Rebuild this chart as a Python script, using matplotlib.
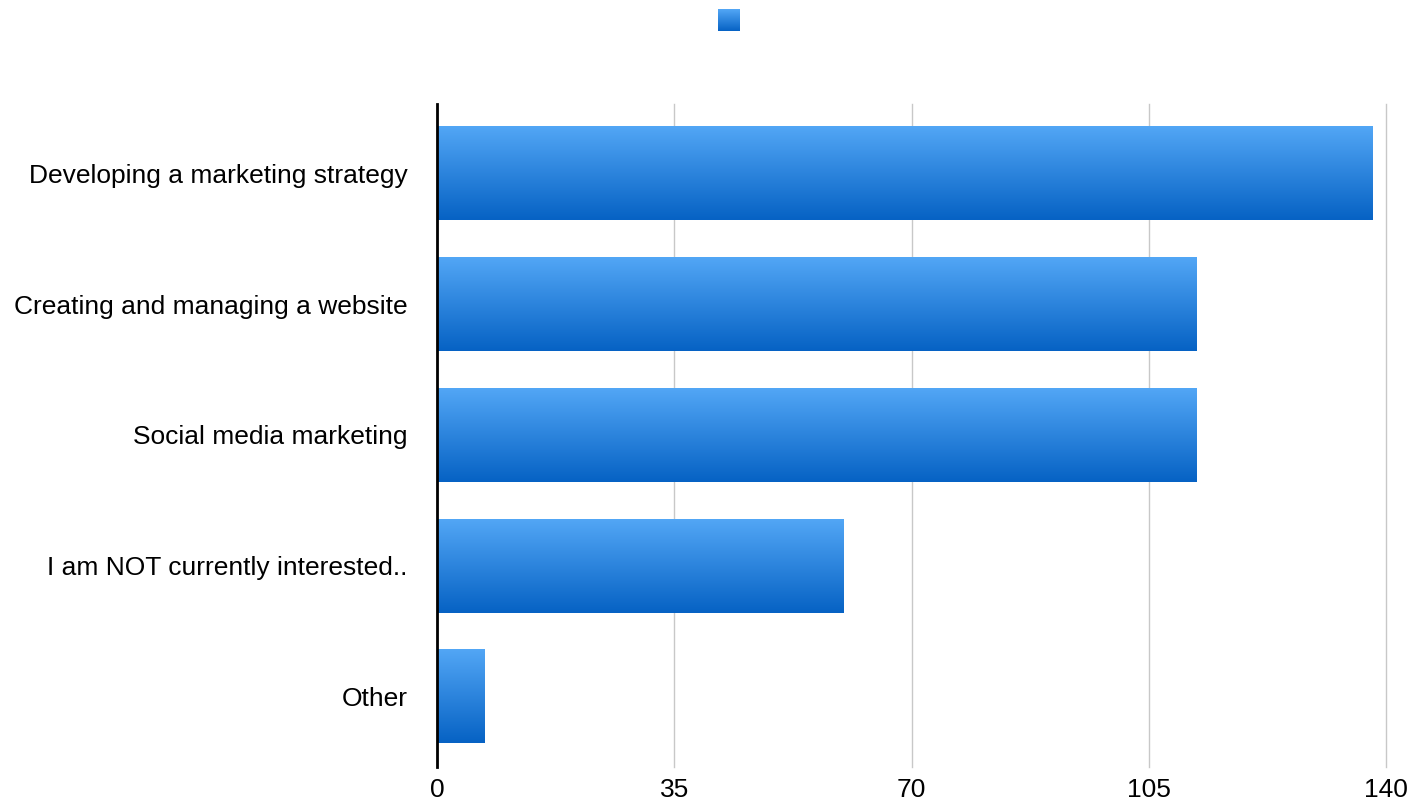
import matplotlib.pyplot as plt
import numpy as np
from matplotlib.colors import LinearSegmentedColormap

plt.rcParams['font.family'] = ['Liberation Sans', 'DejaVu Sans']

categories = ['Developing a marketing strategy', 'Creating and managing a website',
              'Social media marketing', 'I am NOT currently interested..', 'Other']
counts = [138, 112, 112, 60, 7]
xticks = [0, 35, 70, 105, 140]

# vertical gradient used for every bar, light at the top, dark at the bottom
grad = LinearSegmentedColormap.from_list('bluegrad', ['#0662C4', '#53A7F6'])
ramp = np.linspace(0, 1, 256).reshape(-1, 1)

fig = plt.figure(figsize=(14.24, 8.05), dpi=100)
ax = fig.add_axes([0.3069, 0.0472, 0.6664, 0.8236])

y = np.arange(len(categories))
bars = ax.barh(y, counts, height=0.72, color='none', edgecolor='none', zorder=2)
for b in bars:
    x0, y0 = b.get_x(), b.get_y()
    w, h = b.get_width(), b.get_height()
    im = ax.imshow(ramp, cmap=grad, aspect='auto', origin='lower',
                   extent=[x0, x0 + w, y0 + h, y0], zorder=2)
    im.set_clip_path(b)

ax.set_xlim(0, 140)
ax.set_ylim(len(categories) - 0.46, -0.53)
ax.set_xticks(xticks)
ax.set_xticklabels([str(t) for t in xticks], fontsize=19)
ax.set_yticks(y)
ax.set_yticklabels(categories, fontsize=19)
ax.tick_params(length=0, pad=8)
ax.tick_params(axis='y', pad=21)
ax.grid(axis='x', color='#C8C8C8', linewidth=1, zorder=0)
for gl in ax.get_xgridlines():
    gl.set_clip_on(False)
ax.set_axisbelow(True)
for s in ['top', 'right', 'bottom']:
    ax.spines[s].set_visible(False)
ax.spines['left'].set_linewidth(2)
ax.spines['left'].set_zorder(3)

# legend swatch without a label
leg = fig.add_axes([718 / 1424, 1 - 31 / 805, 22 / 1424, 22 / 805])
leg.imshow(ramp, cmap=grad, aspect='auto', origin='lower')
leg.axis('off')

fig.savefig('out.png', dpi=100)
